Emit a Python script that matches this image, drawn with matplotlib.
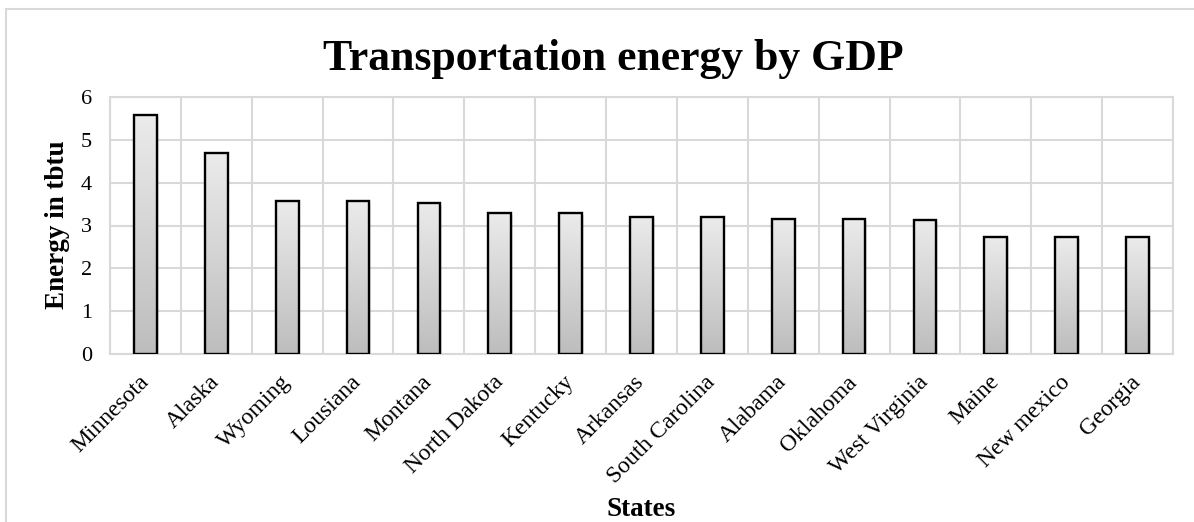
import numpy as np
import matplotlib.pyplot as plt
from matplotlib.lines import Line2D
from matplotlib.colors import LinearSegmentedColormap

states = ["Minnesota", "Alaska", "Wyoming", "Lousiana", "Montana", "North Dakota",
          "Kentucky", "Arkansas", "South Carolina", "Alabama", "Oklahoma",
          "West Virginia", "Maine", "New mexico", "Georgia"]
energy = [5.57, 4.70, 3.58, 3.57, 3.53, 3.29, 3.29, 3.21, 3.19, 3.16, 3.15,
          3.13, 2.74, 2.73, 2.73]
yticks = [0, 1, 2, 3, 4, 5, 6]

plt.rcParams['font.family'] = ['Liberation Serif', 'DejaVu Serif']

W, H = 1194, 522
fig = plt.figure(figsize=(W / 100, H / 100), dpi=100)
ax = fig.add_axes([110 / W, 1 - 354 / H, (1173 - 110) / W, (354 - 97) / H])

grid_col = '#d9d9d9'
x = np.arange(len(states))
bar_w = 0.32

# grid: horizontal at each unit, vertical between categories
for yv in yticks:
    ax.axhline(yv, color=grid_col, lw=1.5, zorder=0)
for xv in np.arange(-0.5, len(states), 1.0):
    ax.axvline(xv, color=grid_col, lw=1.5, zorder=0)

# vertical gradient fill for each bar, light at top and darker at the base
cmap = LinearSegmentedColormap.from_list('bar_grad', ['#bdbdbd', '#ebebeb'])
grad = np.linspace(0, 1, 256).reshape(-1, 1)
for xi, h in zip(x, energy):
    # soft shadow
    ax.bar(xi + 0.025, h, width=bar_w, bottom=-0.04, color='#000000', alpha=0.10,
           zorder=1, linewidth=0)
    ax.imshow(grad, cmap=cmap, origin='lower', aspect='auto',
              extent=[xi - bar_w / 2, xi + bar_w / 2, 0, h], zorder=2,
              interpolation='bicubic')
ax.bar(x, energy, width=bar_w, facecolor='none', edgecolor='black',
       linewidth=1.7, zorder=3)
ax.set_xlim(-0.5, len(states) - 0.5)
ax.set_ylim(0, 6)

for s in ax.spines.values():
    s.set_color(grid_col)
    s.set_linewidth(1.5)

ax.set_yticks(yticks)
ax.set_yticklabels([str(v) for v in yticks], fontsize=16)
ax.set_xticks(x)
ax.set_xticklabels(states, fontsize=17, rotation=45, ha='right', va='center',
                   rotation_mode='anchor')
ax.tick_params(axis='y', length=0, pad=13)
ax.tick_params(axis='x', length=0, pad=18)

fig.text(613 / W, 1 - 70 / H, "Transportation energy by GDP", fontsize=31.5,
         fontweight='bold', ha='center', va='baseline')
fig.text(58 / W, 1 - 225 / H, "Energy in tbtu", fontsize=19.5, fontweight='bold',
         rotation=90, ha='center', va='center')
fig.text(641 / W, 1 - 516 / H, "States", fontsize=19.5, fontweight='bold',
         ha='center', va='baseline')

# outer chart frame (top and left edges visible)
fig.add_artist(Line2D([6 / W, 1.0], [1 - 9 / H, 1 - 9 / H], color=grid_col, lw=1.5,
                      transform=fig.transFigure))
fig.add_artist(Line2D([6 / W, 6 / W], [0.0, 1 - 9 / H], color=grid_col, lw=1.5,
                      transform=fig.transFigure))

fig.savefig('out.png', dpi=100)
